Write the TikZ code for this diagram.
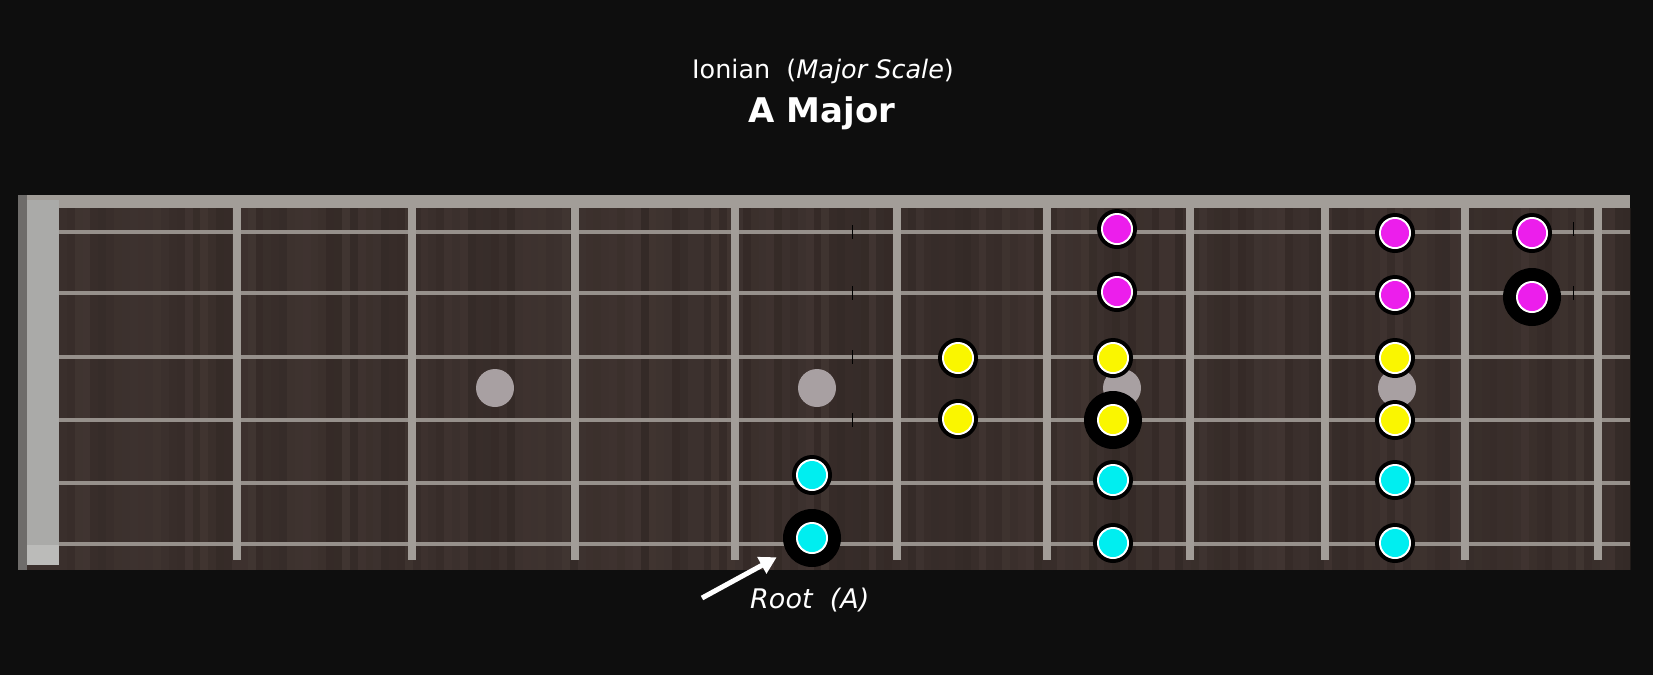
\documentclass[tikz,border=0pt]{standalone}
\usepackage{fontspec}
\setmainfont{DejaVu Sans}
\usetikzlibrary{arrows.meta}
\definecolor{bg}{RGB}{14,14,14}
\definecolor{wood}{RGB}{58,47,44}
\definecolor{woodA}{RGB}{48,38,35}
\definecolor{woodB}{RGB}{70,58,54}
\definecolor{fretc}{RGB}{162,157,152}
\definecolor{strc}{RGB}{150,144,139}
\definecolor{nutc}{RGB}{170,170,168}
\definecolor{nutedge}{RGB}{110,108,106}
\definecolor{inlay}{RGB}{168,160,162}
\definecolor{mag}{RGB}{236,30,236}
\definecolor{yel}{RGB}{250,246,0}
\definecolor{cya}{RGB}{0,238,240}
\tikzset{
  note/.style={circle, inner sep=0pt, minimum size=40pt, fill=black,
    path picture={\fill[white] (path picture bounding box.center) circle (16pt);
                  \fill[#1] (path picture bounding box.center) circle (14pt);}},
  rootnote/.style={note=#1, minimum size=58pt},
  inlaydot/.style={circle, inner sep=0pt, minimum size=38pt, fill=inlay},
  stringline/.style={strc, line width=4.5pt},
  fretline/.style={fretc, line width=8pt},
  labeltext/.style={text=white, inner sep=0pt},
  tick/.style={black, line width=1pt}
}
\begin{document}
\begin{tikzpicture}[x=1pt,y=-1pt]
\useasboundingbox (0,0) rectangle (1653,675);
\fill[bg] (0,0) rectangle (1653,675);
% fretboard wood
\fill[wood] (18,195) rectangle (1630,570);
\pgfmathsetseed{11}
\foreach \i in {0,...,199} {
  \pgfmathsetmacro{\gx}{59+\i*7.86}
  \pgfmathtruncatemacro{\gs}{random(0,100)}
  \fill[woodA!\gs!woodB, opacity=0.55] (\gx,208) rectangle ++(7.86,362);
}
% top band and nut
\fill[fretc] (18,195) rectangle (1630,208);
\fill[nutedge] (18,195) rectangle (27,570);
\fill[nutc] (27,200) rectangle (59,565);
\fill[nutc!80!white] (27,545) rectangle (59,565);
% inlays
\node[inlaydot] (in1) at (495,388) {};
\node[inlaydot] (in2) at (817,388) {};
\node[inlaydot] (in3) at (1122,388) {};
\node[inlaydot] (in4) at (1397,388) {};
% strings
\foreach \s/\y in {1/232,2/293,3/357,4/420,5/483,6/544} {
  \draw[stringline] (59,\y) -- (1630,\y);
}
% frets
\foreach \x in {237,412,575,735,897,1047,1190,1325,1465,1598} {
  \draw[fretline] (\x,206) -- (\x,560);
}
% faint ticks
\foreach \y in {232,293,357,420} { \draw[tick] (852,\y-7) -- (852,\y+7); }
\foreach \y in {229,293} { \draw[tick] (1573,\y-7) -- (1573,\y+7); }
% notes
\node[note=mag] (m1) at (1117,229) {};
\node[note=mag] (m2) at (1117,292) {};
\node[note=mag] (m3) at (1395,233) {};
\node[note=mag] (m4) at (1395,295) {};
\node[note=mag] (m5) at (1532,233) {};
\node[rootnote=mag] (m6) at (1532,297) {};
\node[note=yel] (y1) at (958,358) {};
\node[note=yel] (y2) at (958,419) {};
\node[note=yel] (y3) at (1113,358) {};
\node[rootnote=yel] (y4) at (1113,420) {};
\node[note=yel] (y5) at (1395,358) {};
\node[note=yel] (y6) at (1395,420) {};
\node[note=cya] (c1) at (812,475) {};
\node[rootnote=cya] (c2) at (812,538) {};
\node[note=cya] (c3) at (1113,480) {};
\node[note=cya] (c4) at (1113,543) {};
\node[note=cya] (c5) at (1395,480) {};
\node[note=cya] (c6) at (1395,543) {};
% titles
\node[labeltext, anchor=base, font=\fontsize{25.5}{30}\selectfont] (title) at (823,78) {Ionian~~(\textit{Major Scale})};
\node[labeltext, anchor=base, font=\bfseries\fontsize{34}{40}\selectfont] (key) at (822,122) {A Major};
% root label and arrow
\node[labeltext, anchor=base west, font=\itshape\fontsize{27}{32}\selectfont] (rootlbl) at (750,608) {Root~~(A)};
\coordinate (rtail) at (702,598);
\draw[white, line width=5pt, -{Triangle[length=17pt,width=18pt]}, shorten >=11pt] (rtail) -- (c2);
\end{tikzpicture}
\end{document}
